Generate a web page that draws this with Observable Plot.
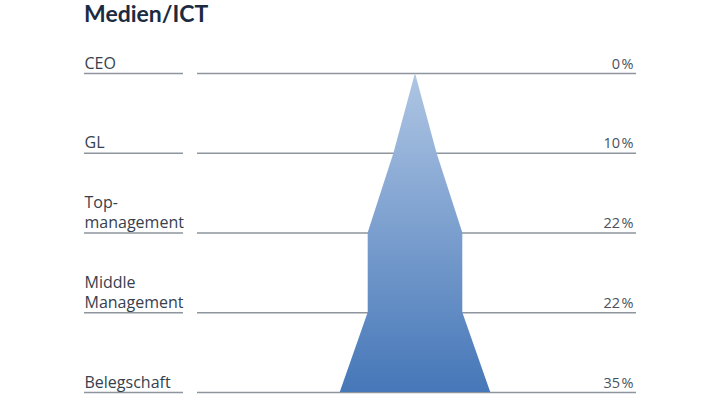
<!DOCTYPE html>
<html>
<head>
<meta charset="utf-8">
<script src="https://cdn.jsdelivr.net/npm/d3@7"></script>
<script src="https://cdn.jsdelivr.net/npm/@observablehq/plot@0.6"></script>
<style>
  html, body { margin: 0; padding: 0; background: #ffffff; }
  #title { height: 30px; padding-left: 84px; font-family: "Lato", sans-serif; font-weight: 700; font-size: 23px; line-height: 26px; color: #1b2b42; }
  #chart svg { display: block; }
</style>
</head>
<body>
<div id="title">Medien/ICT</div>
<div id="chart"></div>
<script>
const levels = ["CEO", "GL", "Top-\nmanagement", "Middle\nManagement", "Belegschaft"];
const shares = [0, 10, 22, 22, 35];

const rows = levels.map((level, i) => ({ i, level, share: shares[i] }));

const gradient = () => {
  const defs = d3.create("svg:defs");
  const g = defs.append("linearGradient")
    .attr("id", "pyr")
    .attr("x1", 0).attr("y1", 0).attr("x2", 0).attr("y2", 1);
  g.append("stop").attr("offset", "0%").attr("stop-color", "#afc6e4");
  g.append("stop").attr("offset", "100%").attr("stop-color", "#4677b8");
  return defs.node();
};

const chart = Plot.plot({
  width: 720,
  height: 375,
  marginLeft: 197,
  marginRight: 84,
  marginTop: 43,
  marginBottom: 13,
  x: { domain: [-101.4, 102.8], axis: null },
  y: { domain: [0, levels.length - 1], reverse: true, axis: null },
  style: { fontFamily: "'Open Sans', sans-serif", background: "#ffffff" },
  marks: [
    gradient,
    Plot.ruleY(rows, { y: "i", stroke: "#8e959e", strokeWidth: 1.6 }),
    Plot.axisY(rows.map(d => d.i), {
      anchor: "left", tickSize: 99, dx: -14, tickFormat: () => "",
      label: null, stroke: "#8e959e", strokeWidth: 1.6, strokeOpacity: 1
    }),
    Plot.areaX(rows, {
      y: "i",
      x1: d => -d.share,
      x2: d => d.share,
      fill: "url(#pyr)",
      curve: "linear"
    }),
    Plot.text(rows, {
      y: "i", text: "level", frameAnchor: "left", dx: -113, dy: -5,
      textAnchor: "start", lineAnchor: "bottom", lineHeight: 1.25,
      fontSize: 16, fill: "#36414e"
    }),
    Plot.text(rows, {
      y: "i", text: d => `${d.share}\u200a%`, frameAnchor: "right", dx: -3, dy: -5,
      textAnchor: "end", lineAnchor: "bottom",
      fontSize: 14.5, fill: "#4a525c"
    })
  ]
});
document.getElementById("chart").append(chart);
</script>
</body>
</html>
